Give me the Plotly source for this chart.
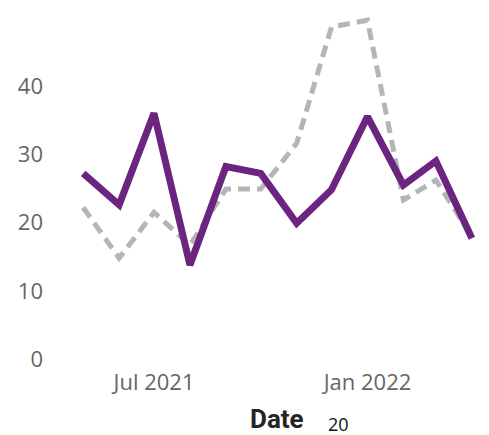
import plotly.graph_objects as go

dates = ["2021-05-01", "2021-06-01", "2021-07-01", "2021-08-01", "2021-09-01", "2021-10-01",
         "2021-11-01", "2021-12-01", "2022-01-01", "2022-02-01", "2022-03-01", "2022-04-01"]
series_a = [27.2, 22.6, 36.0, 13.8, 28.2, 27.2, 19.9, 24.8, 35.5, 25.5, 29.0, 17.7]
series_b = [22.2, 14.8, 21.5, 16.7, 24.9, 24.9, 31.6, 48.6, 49.6, 23.3, 26.2, 18.0]
y_ticks = [0, 10, 20, 30, 40]
x_ticks = ["2021-07-01", "2022-01-01"]
x_tick_labels = ["Jul 2021", "Jan 2022"]
x_title = "Date"
extra_label = "20"

fig = go.Figure()
fig.add_trace(go.Scatter(x=dates, y=series_b, mode="lines",
                         line=dict(color="#B5B5B9", width=5, dash="12px,7px"),
                         showlegend=False))
fig.add_trace(go.Scatter(x=dates, y=series_a, mode="lines",
                         line=dict(color="#6B2580", width=7),
                         showlegend=False))

fig.update_layout(
    width=489, height=435,
    margin=dict(l=60, r=9, t=12, b=75),
    paper_bgcolor="white", plot_bgcolor="white",
    font=dict(family="Open Sans", color="#666666", size=22),
    xaxis=dict(type="date", range=["2021-04-11", "2022-04-08"],
               tickvals=x_ticks, ticktext=x_tick_labels,
               showgrid=False, zeroline=False, showline=False, ticks="",
               ticklabelstandoff=7),
    yaxis=dict(range=[-0.1, 50.8], tickvals=y_ticks,
               showgrid=False, zeroline=False, showline=False, ticks="",
               ticklabelstandoff=16),
    annotations=[
        dict(text="<b>" + x_title + "</b>", x=(277 - 60) / 420, y=(360 - 419) / 348,
             xref="paper", yref="paper", xanchor="center", yanchor="middle",
             showarrow=False, font=dict(family="Roboto", size=26, color="#252423")),
        dict(text=extra_label, x=(338 - 60) / 420, y=(360 - 424) / 348,
             xref="paper", yref="paper", xanchor="center", yanchor="middle",
             showarrow=False, font=dict(family="Open Sans", size=18, color="#111111")),
    ],
)
fig.write_html("out.html", config={"displayModeBar": False},
               post_script="document.body.style.margin='0';")
